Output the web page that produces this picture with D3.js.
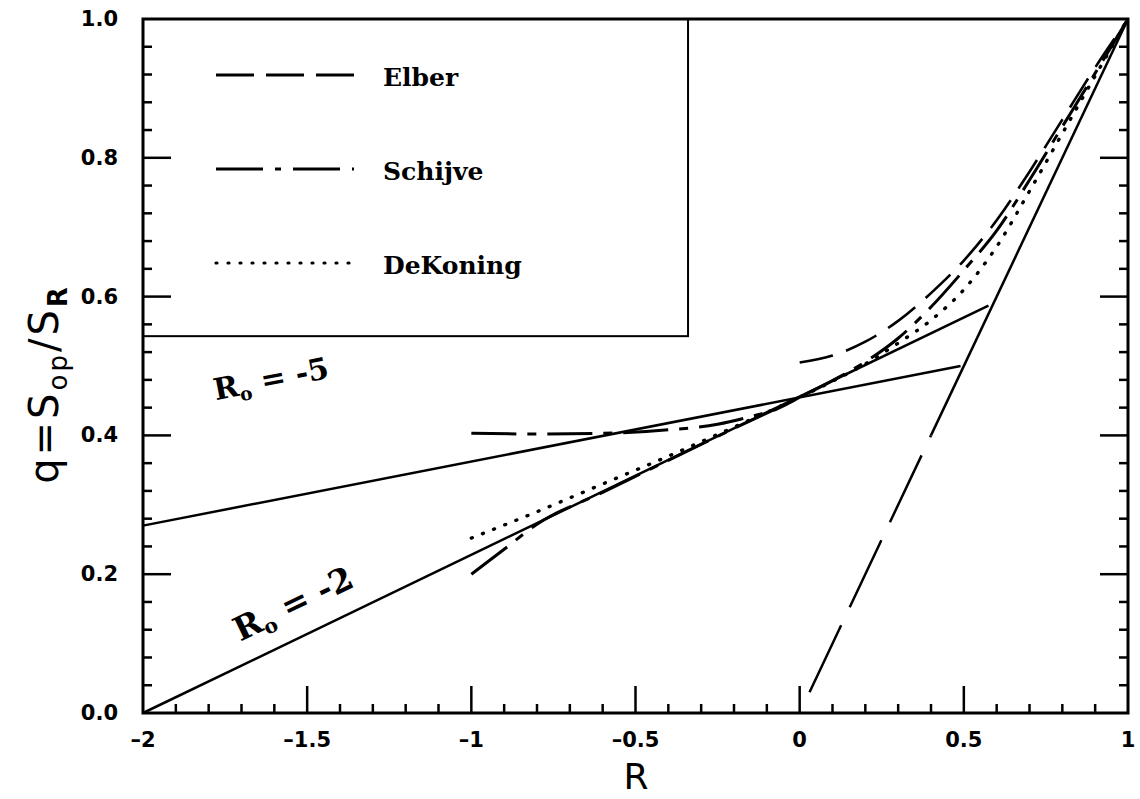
<!DOCTYPE html>
<html>
<head>
<meta charset="utf-8">
<script src="https://cdn.jsdelivr.net/npm/d3@7"></script>
<style>
	body { margin: 0; background: #fff; }
	svg { display: block; }
</style>
</head>
<body>
<div id="chart"></div>
<script>
// axis ticks
var xMajor = [-1.5, -1, -0.5, 0, 0.5];
var xLabels = [-2, -1.5, -1, -0.5, 0, 0.5, 1];
var yMajor = [0.2, 0.4, 0.6, 0.8];
var yLabels = [0, 0.2, 0.4, 0.6, 0.8, 1.0];

// solid boundary lines
var ro5 = [[-2, 0.27], [0.49, 0.50]];
var ro2 = [[-2, 0], [0.575, 0.587]];
var steepSolid = [[0.40, 0.40], [1, 1]];
var steepDashed = [[0.03, 0.03], [0.40, 0.40]];

// Elber (long dash)
var elber = [[0, 0.505], [0.1, 0.515], [0.2, 0.535], [0.3, 0.565], [0.4, 0.605], [0.5, 0.652],
	[0.6, 0.71], [0.7, 0.78], [0.8, 0.855], [0.9, 0.93], [1, 1]];

// Schijve (dash-dot)
var schijveHigh = [[-1, 0.403], [-0.8, 0.402], [-0.6, 0.403], [-0.4, 0.408], [-0.25, 0.416],
	[-0.15, 0.427], [-0.07, 0.438], [0, 0.455]];
var schijveLow = [[-1, 0.20], [-0.9, 0.236], [-0.8, 0.272], [-0.6, 0.318], [-0.4, 0.364], [-0.2, 0.41],
	[0, 0.455], [0.1, 0.479], [0.2, 0.506], [0.3, 0.54], [0.4, 0.585], [0.5, 0.638],
	[0.6, 0.695], [0.7, 0.768], [0.8, 0.845], [0.9, 0.922], [1, 1]];

// DeKoning (dotted)
var dekoning = [[-1, 0.252], [-0.8, 0.29], [-0.6, 0.33], [-0.4, 0.37], [-0.2, 0.412], [0, 0.455],
	[0.1, 0.478], [0.2, 0.503], [0.3, 0.533], [0.4, 0.566], [0.5, 0.61], [0.6, 0.672],
	[0.7, 0.752], [0.8, 0.835], [0.9, 0.918], [1, 1]];

var legendItems = ['Elber', 'Schijve', 'DeKoning'];

var width = 1140;
var height = 799;
var frame = { left: 143, right: 1128, top: 19, bottom: 713 };

var styles = {
	solid: null,
	elber: '34,14',
	steep: '74,20',
	schijve: '45,11,9,11',
	dekoning: '1,11'
};

var svg = d3.select('#chart')
	.append('svg')
	.attr('width', width)
	.attr('height', height);

var x = d3.scaleLinear().domain([-2, 1]).range([frame.left, frame.right]);
var y = d3.scaleLinear().domain([0, 1]).range([frame.bottom, frame.top]);

var line = d3.line()
	.x(function(d) { return x(d[0]); })
	.y(function(d) { return y(d[1]); })
	.curve(d3.curveMonotoneX);

// legend box (sits in the upper left corner of the frame)
svg.append('rect')
	.attr('x', x(-2))
	.attr('y', y(1))
	.attr('width', x(-0.34) - x(-2))
	.attr('height', y(0.543) - y(1))
	.attr('fill', 'none')
	.attr('stroke', '#000')
	.attr('stroke-width', 2);

// curves
var series = [
	{ data: ro5, dash: styles.solid, w: 2.5 },
	{ data: ro2, dash: styles.solid, w: 2.5 },
	{ data: steepSolid, dash: styles.solid, w: 2.5 },
	{ data: steepDashed, dash: styles.steep, w: 2.5 },
	{ data: elber, dash: styles.elber, w: 2.6 },
	{ data: schijveHigh, dash: styles.schijve, w: 3 },
	{ data: schijveLow, dash: styles.schijve, w: 3 },
	{ data: dekoning, dash: styles.dekoning, w: 3.4 }
];

svg.append('g')
	.selectAll('path')
	.data(series)
	.enter()
	.append('path')
	.attr('d', function(d) { return line(d.data); })
	.attr('fill', 'none')
	.attr('stroke', '#000')
	.attr('stroke-width', function(d) { return d.w; })
	.attr('stroke-linecap', function(d) { return d.dash === styles.dekoning ? 'round' : 'butt'; })
	.attr('stroke-dasharray', function(d) { return d.dash; });

// frame
svg.append('rect')
	.attr('x', frame.left)
	.attr('y', frame.top)
	.attr('width', frame.right - frame.left)
	.attr('height', frame.bottom - frame.top)
	.attr('fill', 'none')
	.attr('stroke', '#000')
	.attr('stroke-width', 3);

// ticks
var ticks = svg.append('g').attr('stroke', '#000').attr('stroke-width', 2.5);

var xMinor = d3.range(-19, 10).map(function(i) { return i / 10; })
	.filter(function(v) { return xMajor.indexOf(v) < 0 && v !== -2; });
var yMinor = d3.range(1, 25).map(function(i) { return Math.round(i * 4) / 100; })
	.filter(function(v) { return yMajor.indexOf(v) < 0; });

ticks.selectAll('.xt')
	.data(xMajor.map(function(v) { return { v: v, len: 27 }; })
		.concat(xMinor.map(function(v) { return { v: v, len: 9 }; })))
	.enter().append('line')
	.attr('x1', function(d) { return x(d.v); })
	.attr('x2', function(d) { return x(d.v); })
	.attr('y1', frame.bottom)
	.attr('y2', function(d) { return frame.bottom - d.len; });

var yTicks = yMajor.map(function(v) { return { v: v, len: 28 }; })
	.concat(yMinor.map(function(v) { return { v: v, len: 9 }; }));

ticks.selectAll('.yl')
	.data(yTicks)
	.enter().append('line')
	.attr('x1', frame.left)
	.attr('x2', function(d) { return frame.left + d.len; })
	.attr('y1', function(d) { return y(d.v); })
	.attr('y2', function(d) { return y(d.v); });

ticks.selectAll('.yr')
	.data(yTicks)
	.enter().append('line')
	.attr('x1', frame.right)
	.attr('x2', function(d) { return frame.right - d.len; })
	.attr('y1', function(d) { return y(d.v); })
	.attr('y2', function(d) { return y(d.v); });

// tick labels
var fmtX = function(v) {
	var s = v === 0 ? '0' : String(Math.abs(v));
	return (v < 0 ? '\u2013' : '') + s;
};

svg.append('g')
	.selectAll('text')
	.data(xLabels)
	.enter().append('text')
	.attr('x', function(d) { return x(d); })
	.attr('y', 740)
	.attr('text-anchor', 'middle')
	.attr('dominant-baseline', 'central')
	.style('font', 'bold 21px "DejaVu Sans"')
	.text(fmtX);

svg.append('g')
	.selectAll('text')
	.data(yLabels)
	.enter().append('text')
	.attr('x', 118)
	.attr('y', function(d) { return y(d); })
	.attr('text-anchor', 'end')
	.attr('dominant-baseline', 'central')
	.style('font', 'bold 21px "DejaVu Sans"')
	.text(function(d) { return d3.format('.1f')(d); });

// axis titles
svg.append('text')
	.attr('x', 636)
	.attr('y', 776)
	.attr('text-anchor', 'middle')
	.attr('dominant-baseline', 'central')
	.style('font', '36px "DejaVu Sans"')
	.text('R');

var yTitle = svg.append('text')
	.attr('transform', 'translate(58,384) rotate(-90)')
	.attr('text-anchor', 'middle')
	.style('font', '40px "DejaVu Sans"')
	.style('letter-spacing', '3px');
yTitle.append('tspan').text('q=S');
yTitle.append('tspan').attr('dy', 9).style('font-size', '26px').text('op');
yTitle.append('tspan').attr('dy', -9).text('/S');
yTitle.append('tspan').attr('dy', 9).style('font-size', '26px').style('font-weight', 'bold').text('R');

// legend entries
var legendY = [75, 169, 263];
var legendDash = ['38,12', '47,12,6,12', styles.dekoning];

var leg = svg.append('g')
	.selectAll('g')
	.data(legendItems)
	.enter().append('g');

leg.append('line')
	.attr('x1', 216)
	.attr('x2', 354)
	.attr('y1', function(d, i) { return legendY[i]; })
	.attr('y2', function(d, i) { return legendY[i]; })
	.attr('stroke', '#000')
	.attr('stroke-width', function(d, i) { return i === 2 ? 3.2 : 2.8; })
	.attr('stroke-linecap', function(d, i) { return i === 2 ? 'round' : 'butt'; })
	.attr('stroke-dasharray', function(d, i) { return legendDash[i]; });

leg.append('text')
	.attr('x', 383)
	.attr('y', function(d, i) { return legendY[i] + 2; })
	.attr('dominant-baseline', 'central')
	.style('font', 'bold 25px "DejaVu Serif"')
	.text(function(d) { return d; });

// R_o annotations, rotated along their lines
function roLabel(txt, cx, cy, angle, size) {
	var t = svg.append('text')
		.attr('transform', 'translate(' + cx + ',' + cy + ') rotate(' + angle + ')')
		.attr('text-anchor', 'middle')
		.style('font', 'bold ' + size + 'px "DejaVu Serif"');
	t.append('tspan').text('R');
	t.append('tspan').attr('dy', 6).style('font-size', (size * 0.62) + 'px').text('o');
	t.append('tspan').attr('dy', -6).text(' = -' + txt);
}

var slope5 = Math.atan2(y(ro5[1][1]) - y(ro5[0][1]), x(ro5[1][0]) - x(ro5[0][0])) * 180 / Math.PI;
var slope2 = Math.atan2(y(ro2[1][1]) - y(ro2[0][1]), x(ro2[1][0]) - x(ro2[0][0])) * 180 / Math.PI;
roLabel('5', 273, 389, slope5, 30);
roLabel('2', 298, 614, slope2, 33);
</script>
</body>
</html>
